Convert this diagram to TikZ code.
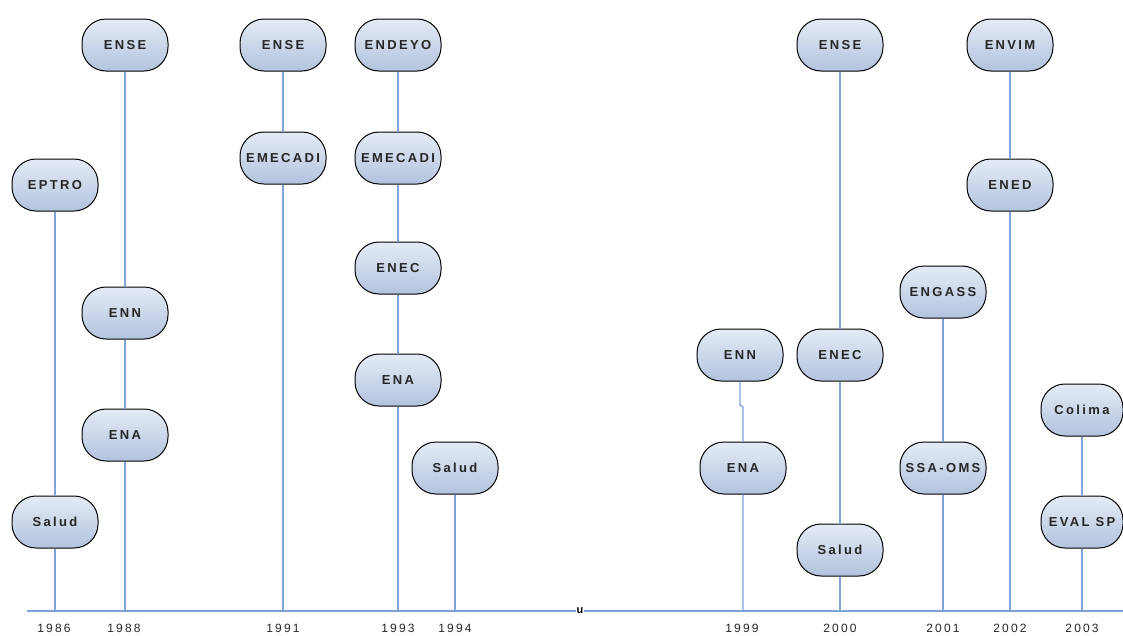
\documentclass[tikz,border=0pt]{standalone}
\usepackage{fontspec}
\setmainfont{Liberation Sans}
\newfontfamily\boxfont[LetterSpace=18]{Liberation Sans}
\newfontfamily\yearfont[LetterSpace=18]{Liberation Sans}
\definecolor{nodetop}{HTML}{E4EBF5}
\definecolor{nodebot}{HTML}{B2C3DE}
\definecolor{stemblue}{HTML}{7FA2DB}

\tikzstyle{block} = [rectangle, draw=black, line width=1pt, top color=nodetop, bottom color=nodebot,
    minimum width=86pt, minimum height=52pt, rounded corners=24pt, inner sep=1pt,
    font=\boxfont\bfseries\fontsize{13}{15}\selectfont, text=black!85]
\tikzstyle{line} = [draw=stemblue, line width=1.3pt]
\tikzstyle{year} = [font=\yearfont\fontsize{12}{14}\selectfont, text=black!85, inner sep=1pt]

\begin{document}
\begin{tikzpicture}[x=1pt, y=-1pt]
    \useasboundingbox (0,0) rectangle (1123,635);

    % time axis
    \coordinate (axl) at (27,611);
    \coordinate (axr) at (1123,611);
    \node [fill=white, inner sep=0.6pt, font=\bfseries\fontsize{11}{11}\selectfont] (gap) at (580,611) {u};

    % axis foot of each year
    \coordinate (b86) at (55,611);
    \coordinate (b88) at (125,611);
    \coordinate (b91) at (283,611);
    \coordinate (b93) at (398,611);
    \coordinate (b94) at (455,611);
    \coordinate (b99) at (743,611);
    \coordinate (b00) at (840,611);
    \coordinate (b01) at (943,611);
    \coordinate (b02) at (1010,611);
    \coordinate (b03) at (1082,611);

    % year labels
    \node [year] (y86) at (54,628) {1986};
    \node [year] (y88) at (124,628) {1988};
    \node [year] (y91) at (283,628) {1991};
    \node [year] (y93) at (398,628) {1993};
    \node [year] (y94) at (455,628) {1994};
    \node [year] (y99) at (742,628) {1999};
    \node [year] (y00) at (840,628) {2000};
    \node [year] (y01) at (943,628) {2001};
    \node [year] (y02) at (1010,628) {2002};
    \node [year] (y03) at (1082,628) {2003};

    % 1986
    \node [block] (eptro86) at (55,185) {EPTRO};
    \node [block] (salud86) at (55,522) {Salud};
    % 1988
    \node [block] (ense88) at (125,45) {ENSE};
    \node [block] (enn88) at (125,313) {ENN};
    \node [block] (ena88) at (125,435) {ENA};
    % 1991
    \node [block] (ense91) at (283,45) {ENSE};
    \node [block] (emecadi91) at (283,158) {EMECADI};
    % 1993
    \node [block] (endeyo93) at (398,45) {ENDEYO};
    \node [block] (emecadi93) at (398,158) {EMECADI};
    \node [block] (enec93) at (398,268) {ENEC};
    \node [block] (ena93) at (398,380) {ENA};
    % 1994
    \node [block] (salud94) at (455,468) {Salud};
    % 1999
    \node [block] (enn99) at (740,355) {ENN};
    \node [block] (ena99) at (743,468) {ENA};
    \coordinate (k99a) at (740,405);
    \coordinate (k99b) at (743,407);
    % 2000
    \node [block] (ense00) at (840,45) {ENSE};
    \node [block] (enec00) at (840,355) {ENEC};
    \node [block] (salud00) at (840,550) {Salud};
    % 2001
    \node [block] (engass01) at (943,292) {ENGASS};
    \node [block] (ssaoms01) at (943,468) {SSA-OMS};
    % 2002
    \node [block] (envim02) at (1010,45) {ENVIM};
    \node [block] (ened02) at (1010,185) {ENED};
    % 2003
    \node [block, minimum width=82pt] (colima03) at (1082,410) {Colima};
    \node [block, minimum width=82pt] (evalsp03) at (1082,522) {EVAL SP};

    % Path
    \path[line] (axl) -- (gap) -- (axr);
    \path[line] (eptro86) -- (salud86) -- (b86);
    \path[line] (ense88) -- (enn88) -- (ena88) -- (b88);
    \path[line] (ense91) -- (emecadi91) -- (b91);
    \path[line] (endeyo93) -- (emecadi93) -- (enec93) -- (ena93) -- (b93);
    \path[line] (salud94) -- (b94);
    \path[line] (enn99) -- (k99a) -- (k99b) -- (ena99) -- (b99);
    \path[line] (ense00) -- (enec00) -- (salud00) -- (b00);
    \path[line] (engass01) -- (ssaoms01) -- (b01);
    \path[line] (envim02) -- (ened02) -- (b02);
    \path[line] (colima03) -- (evalsp03) -- (b03);

\end{tikzpicture}
\end{document}
